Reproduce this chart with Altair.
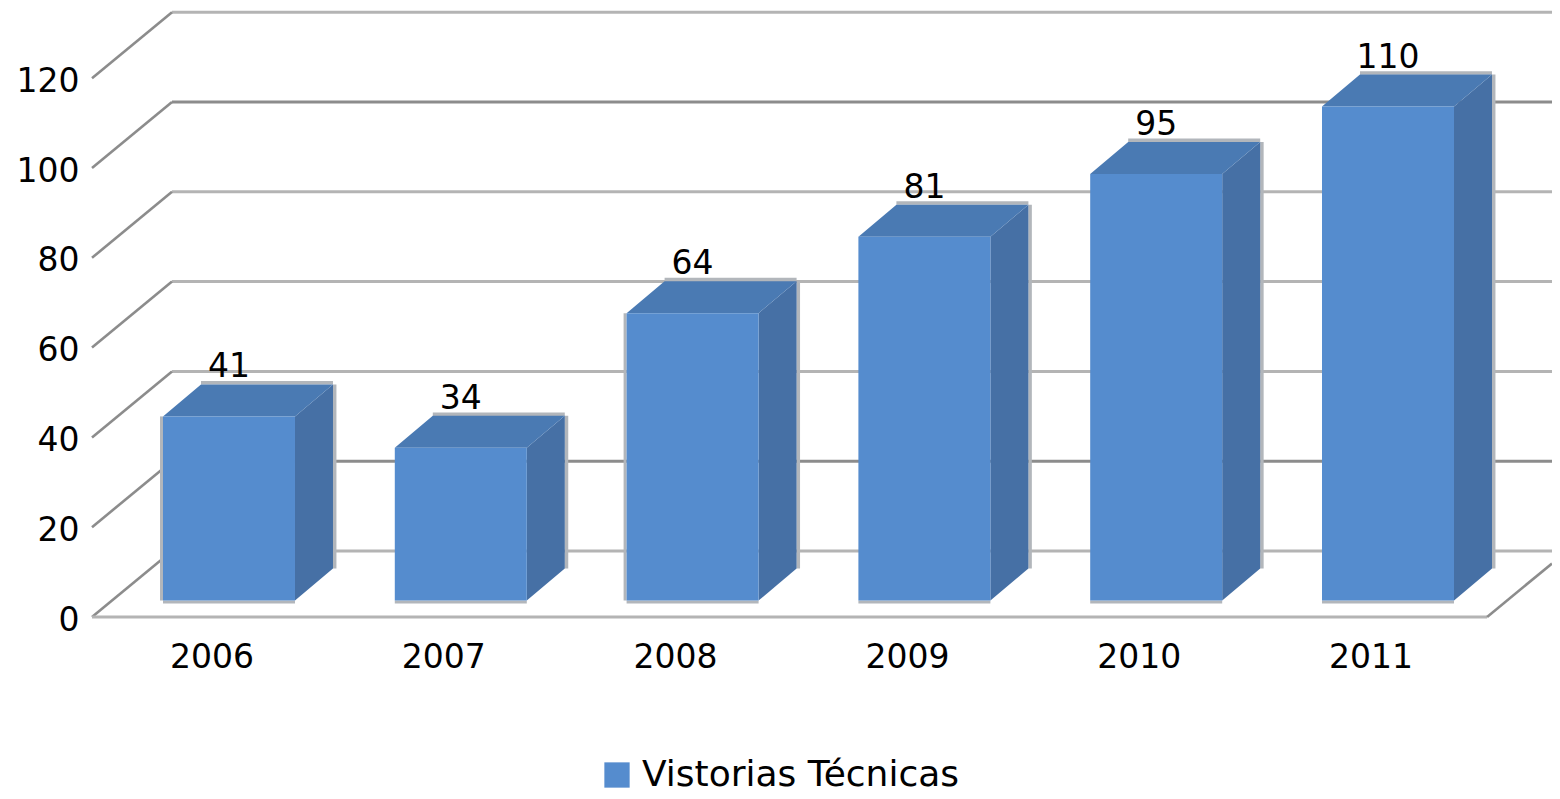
import altair as alt
import pandas as pd

years = ["2006", "2007", "2008", "2009", "2010", "2011"]
visits = [41, 34, 64, 81, 95, 110]
wall_ticks = [0, 20, 40, 60, 80, 100, 120]
dark_walls = [20, 100]
left_edged = [0, 2]
series = "Vistorias Técnicas"

FONT = "DejaVu Sans"
GREY, DARK = "#b4b4b4", "#8c8c8c"
EDGE = "#b2b6bb"

# Oblique projection constants, in scale units (category steps / value units)
PX_X, PX_Y = 231.8, 4.49
X_LO, X_HI, X_END = -0.5155, 5.503, 5.783
WALL_DX, WALL_DY = 80 / PX_X, 66 / PX_Y
FRONT_DX, FRONT_DY = 17.5 / PX_X, 16.5 / PX_Y
HALF_W = 66 / PX_X
DEPTH_DX, DEPTH_DY = 38 / PX_X, 32 / PX_Y

x_scale = alt.Scale(domain=[X_LO, X_END], nice=False, zero=False)
y_scale = alt.Scale(domain=[0, 605 / PX_Y], nice=False, zero=False)
x_axis = alt.Axis(
    values=list(range(len(years))), title=None, grid=False, domain=False, ticks=False,
    labelExpr="[" + ",".join(f"'{y}'" for y in years) + "][datum.value]",
    labelFont=FONT, labelFontSize=33, labelColor="black", labelPadding=24,
    labelAngle=0, labelBaseline="top", labelOverlap=False)
y_axis = alt.Axis(
    values=wall_ticks, title=None, grid=False, domain=False, ticks=False,
    labelFont=FONT, labelFontSize=33, labelColor="black", labelPadding=13,
    labelBaseline="middle", labelOffset=3, labelOverlap=False)
X = lambda f: alt.X(f, type="quantitative", scale=x_scale, axis=x_axis)
Y = lambda f: alt.Y(f, type="quantitative", scale=y_scale, axis=y_axis, stack=None)
X2 = lambda f: alt.X2(f)
Y2 = lambda f: alt.Y2(f)

walls = pd.DataFrame({"v": wall_ticks})
walls["back"] = walls.v + WALL_DY
walls["x0"], walls["x1"], walls["x2"] = X_LO, X_LO + WALL_DX, X_END
walls["dark"] = walls.v.isin(dark_walls)

bars = pd.DataFrame({"i": range(len(visits)), "v": visits})
bars["series"] = series
bars["l"] = bars.i + FRONT_DX - HALF_W
bars["r"] = bars.i + FRONT_DX + HALF_W
bars["c"] = bars.i + FRONT_DX
bars["b"] = FRONT_DY
bars["t"] = bars.v + FRONT_DY
bars["tb"] = bars.t + DEPTH_DY
bars["lb"] = bars.l + DEPTH_DX
bars["rb"] = bars.r + DEPTH_DX
bars["bb"] = bars.b + DEPTH_DY

side = pd.concat([
    pd.DataFrame({"i": bars.i, "x": bars.r, "y0": bars.b, "y1": bars.t}),
    pd.DataFrame({"i": bars.i, "x": bars.rb, "y0": bars.bb, "y1": bars.tb}),
], ignore_index=True)
top = pd.concat([
    pd.DataFrame({"i": bars.i, "y": bars.t, "x0": bars.l, "x1": bars.r}),
    pd.DataFrame({"i": bars.i, "y": bars.tb, "x0": bars.lb, "x1": bars.rb}),
], ignore_index=True)

floor = pd.DataFrame({"x0": [X_LO], "x1": [X_HI], "y": [0.0]})
floor_edge = pd.DataFrame({"x0": [X_HI], "x1": [X_END], "y0": [0.0],
                           "y1": [(X_END - X_HI) / WALL_DX * WALL_DY]})

back = alt.Chart(walls).mark_rule(strokeWidth=3).encode(
    x=X("x1"), x2=X2("x2"), y=Y("back"),
    color=alt.condition("datum.dark", alt.value(DARK), alt.value(GREY)),
)
diag = alt.Chart(walls).mark_rule(strokeWidth=2.6, color=DARK).encode(
    x=X("x0"), x2=X2("x1"), y=Y("v"), y2=Y2("back"),
)
floor_line = alt.Chart(floor).mark_rule(strokeWidth=3, color=GREY).encode(
    x=X("x0"), x2=X2("x1"), y=Y("y"),
)
right_diag = alt.Chart(floor_edge).mark_rule(strokeWidth=2.6, color=DARK).encode(
    x=X("x0"), x2=X2("x1"), y=Y("y0"), y2=Y2("y1"),
)

edge_bottom = alt.Chart(bars).mark_rule(strokeWidth=3, color=EDGE, yOffset=1.5).encode(
    x=X("l"), x2=X2("r"), y=Y("b"),
)
edge_back = alt.Chart(bars).mark_rule(strokeWidth=3.5, color=EDGE, xOffset=1.7).encode(
    x=X("rb"), y=Y("bb"), y2=Y2("tb"),
)
edge_top = alt.Chart(bars).mark_rule(strokeWidth=3.5, color=EDGE, yOffset=-1.7).encode(
    x=X("lb"), x2=X2("rb"), y=Y("tb"),
)
edge_left = alt.Chart(bars[bars.i.isin(left_edged)]).mark_rule(strokeWidth=3, color=EDGE, xOffset=-1.5).encode(
    x=X("l"), y=Y("b"), y2=Y2("t"),
)

side_mark = alt.Chart(side).mark_area(color="#4670a5", opacity=1, line=False).encode(
    x=X("x"), y=Y("y0"), y2=Y2("y1"), detail="i:N",
)
top_mark = alt.Chart(top).mark_area(orient="horizontal", color="#4a7ab3", opacity=1, line=False).encode(
    y=Y("y"), x=alt.X("x0", type="quantitative", scale=x_scale, axis=x_axis, stack=None),
    x2=X2("x1"), detail="i:N",
)
front = alt.Chart(bars).mark_rect().encode(
    x=X("l"), x2=X2("r"), y=Y("b"), y2=Y2("t"),
    color=alt.Color("series:N", scale=alt.Scale(domain=[series], range=["#558cce"]),
                    legend=alt.Legend(
                        title=None, orient="none", legendX=507, legendY=745, padding=0,
                        symbolType="square", symbolSize=640, symbolStrokeWidth=0,
                        symbolFillColor="#4f81bd",
                        labelFont=FONT, labelFontSize=36, labelColor="black",
                        labelLimit=600, labelOffset=7)),
)
labels = alt.Chart(bars).mark_text(font=FONT, fontSize=33, color="black", dy=-17, baseline="middle").encode(
    x=X("c"), y=Y("tb"), text="v:Q",
)

chart = alt.layer(
    back, diag, floor_line, right_diag,
    edge_bottom, edge_back, edge_top, edge_left,
    side_mark, top_mark, front, labels,
).properties(
    width=1460, height=605,
    padding={"left": 84, "top": 4, "right": 0, "bottom": 178},
    autosize=alt.AutoSizeParams(type="none"),
).configure_view(stroke=None)

chart.save("out.html", embed_options={"renderer": "svg", "actions": False})
